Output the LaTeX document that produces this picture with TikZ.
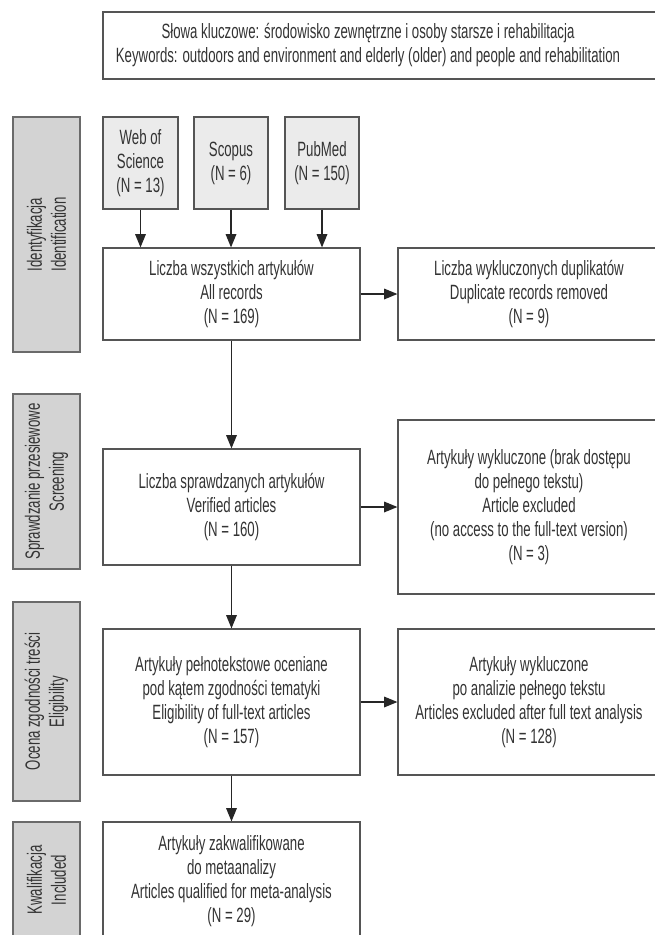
\documentclass[tikz,border=0pt]{standalone}
\usepackage{fontspec}
\setmainfont{Liberation Sans}[FakeStretch=0.64]
\usetikzlibrary{arrows.meta}
\definecolor{bordercol}{HTML}{555555}
\definecolor{txtcol}{HTML}{333333}
\definecolor{srcfill}{HTML}{EBEBEB}
\definecolor{sidefill}{HTML}{D3D3D3}
\definecolor{sideborder}{HTML}{6A6A6A}
\begin{document}
\begin{tikzpicture}[x=0.75pt,y=-0.75pt,
  every node/.style={text=txtcol, font=\fontsize{15.5}{18}\selectfont, align=center},
  box/.style={draw=bordercol, line width=0.9pt, fill=white, inner sep=0pt},
  srcbox/.style={box, fill=srcfill, minimum width={75*0.75pt}, minimum height={92*0.75pt}},
  mainbox/.style={box, minimum width={257*0.75pt}},
  rightbox/.style={box, minimum width={262*0.75pt}},
  sidebox/.style={draw=sideborder, line width=0.9pt, fill=sidefill, inner sep=0pt, minimum width={67*0.75pt}},
  sidetext/.style={rotate=90, text=txtcol},
  arr/.style={draw=black!85, line width=0.9pt, -{Triangle[width=8pt,length=10pt]}}
]
\useasboundingbox (0,0) rectangle (655,935);
\begin{scope}
\clip (0,0) rectangle (655,935);
% top keyword box
\node[box, minimum width={557*0.75pt}, minimum height={67*0.75pt}] (kw) at (381.5,45.5) {};
\node (kwtext) at (368,45.5) {S\l{}owa kluczowe: \'srodowisko zewn\k{e}trzne i osoby starsze i rehabilitacja\\Keywords: outdoors and environment and elderly (older) and people and rehabilitation};

% side labels
\node[sidebox, minimum height={235*0.75pt}] (s1) at (46.5,234.5) {};
\node[sidetext] (s1t) at (s1.center) {Identyfikacja\\Identification};
\node[sidebox, minimum height={175*0.75pt}] (s2) at (46.5,481.5) {};
\node[sidetext] (s2t) at (s2.center) {Sprawdzanie przesiewowe\\Screening};
\node[sidebox, minimum height={199*0.75pt}] (s3) at (46.5,701.5) {};
\node[sidetext] (s3t) at (s3.center) {Ocena zgodno\'sci tre\'sci\\Eligibility};
\node[sidebox, minimum height={124*0.75pt}] (s4) at (46.5,884) {};
\node[sidetext] (s4t) at (46.5,880) {Kwalifikacja\\Included};

% sources
\node[srcbox] (wos) at (140.5,163) {Web of\\Science\\(N = 13)};
\node[srcbox, minimum width={74*0.75pt}] (sco) at (231,163) {Scopus\\(N = 6)};
\node[srcbox, minimum width={74*0.75pt}] (pub) at (322,163) {PubMed\\(N = 150)};

% main column
\node[mainbox, minimum height={92*0.75pt}] (all) at (231.5,294) {Liczba wszystkich artyku\l{}\'ow\\All records\\(N = 169)};
\node[mainbox, minimum height={116*0.75pt}] (ver) at (231.5,507) {Liczba sprawdzanych artyku\l{}\'ow\\Verified articles\\(N = 160)};
\node[mainbox, minimum height={146*0.75pt}] (eli) at (231.5,702) {Artyku\l{}y pe\l{}notekstowe oceniane\\pod k\k{a}tem zgodno\'sci tematyki\\Eligibility of full-text articles\\(N = 157)};
\node[mainbox, minimum height={119*0.75pt}] (fin) at (231.5,881.5) {Artyku\l{}y zakwalifikowane\\do metaanalizy\\Articles qualified for meta-analysis\\(N = 29)};

% right column
\node[rightbox, minimum height={92*0.75pt}] (dup) at (529,294) {Liczba wykluczonych duplikat\'ow\\Duplicate records removed\\(N = 9)};
\node[rightbox, minimum height={174*0.75pt}] (ex1) at (529,507) {Artyku\l{}y wykluczone (brak dost\k{e}pu\\do pe\l{}nego tekstu)\\Article excluded\\(no access to the full-text version)\\(N = 3)};
\node[rightbox, minimum height={146*0.75pt}] (ex2) at (529,702) {Artyku\l{}y wykluczone\\po analizie pe\l{}nego tekstu\\Articles excluded after full text analysis\\(N = 128)};

% connectors
\draw[arr] (wos.south) -- (wos.south |- all.north);
\draw[arr] (sco.south) -- (sco.south |- all.north);
\draw[arr] (pub.south) -- (pub.south |- all.north);
\draw[arr] (all.south) -- (ver.north);
\draw[arr] (ver.south) -- (eli.north);
\draw[arr] (eli.south) -- (fin.north);
\draw[arr] (all.east) -- (dup.west);
\draw[arr] (ver.east) -- (ex1.west);
\draw[arr] (eli.east) -- (ex2.west);
\end{scope}
\end{tikzpicture}
\end{document}
